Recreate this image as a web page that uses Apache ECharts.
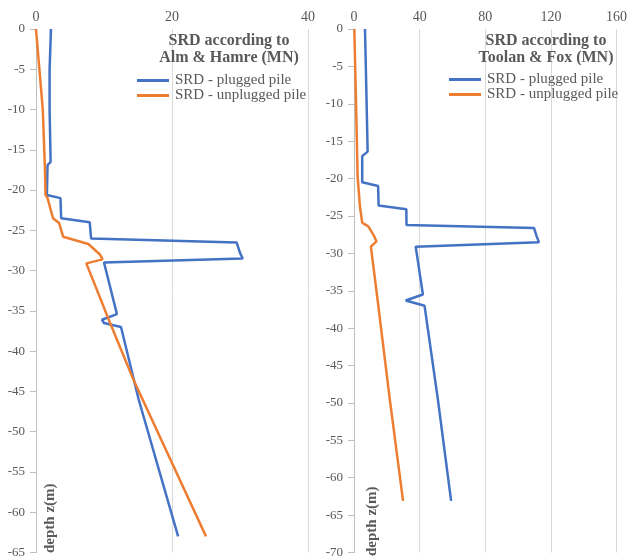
<!DOCTYPE html>
<html>
<head>
<meta charset="utf-8">
<script src="https://cdn.jsdelivr.net/npm/echarts@6/dist/echarts.min.js"></script>
<style>
html, body { margin: 0; padding: 0; background: #fff; }
#chart { width: 630px; height: 559px; }
</style>
</head>
<body>
<div id="chart"></div>
<script>
// Alm & Hamre - left panel
var almDepthPlugged = [0, -5, -10, -16.5, -16.9, -20.6, -21.0, -23.5, -24.0, -26.0, -26.5, -27.8, -28.5, -29.0, -35.4, -36.1, -36.5, -37.0, -46, -63];
var almSrdPlugged   = [2.2, 2.0, 2.0, 2.15, 1.7, 1.6, 3.6, 3.7, 7.9, 8.1, 29.5, 30.0, 30.4, 10.0, 11.9, 9.7, 10.0, 12.5, 15.1, 20.9];
var almDepthUnplugged = [0, -10, -17, -20.6, -21.0, -23.5, -24.1, -25.8, -26.7, -28.0, -28.6, -29.1, -36.5, -43.5, -63];
var almSrdUnplugged   = [0, 1.0, 1.3, 1.4, 1.7, 2.5, 3.4, 4.0, 7.7, 9.4, 9.8, 7.4, 10.9, 14.3, 25.0];

// Toolan & Fox - right panel
var tfDepthPlugged = [0, -10, -16.4, -17.0, -20.5, -21.0, -23.6, -24.1, -26.2, -26.6, -27.7, -28.5, -29.1, -35.5, -36.3, -37.0, -49.5, -63.1];
var tfSrdPlugged   = [6.7, 7.7, 8.3, 5.0, 5.0, 14.7, 15.0, 31.9, 32.0, 109.7, 111.3, 112.7, 37.6, 42.0, 31.5, 43.0, 51.1, 59.2];
var tfDepthUnplugged = [0, -9.5, -19.7, -23.7, -25.9, -26.4, -27.7, -28.4, -29.1, -36.8, -49.5, -63.1];
var tfSrdUnplugged   = [0.2, 1.2, 2.2, 3.6, 5.0, 8.7, 12.3, 13.7, 10.3, 14.7, 21.8, 29.9];

var seriesNames = ['SRD - plugged pile', 'SRD - unplugged pile'];
var panelTitles = ['SRD according to\nAlm & Hamre (MN)', 'SRD according to\nToolan & Fox (MN)'];
var yAxisName = 'depth z(m)';

var blue = '#4472C4';
var orange = '#ED7D31';
var txt = '#595959';
var serif = '"Liberation Serif", "Times New Roman", serif';

function pairs(xs, ys) {
	return xs.map(function (x, i) { return [x, ys[i]]; });
}

function xAxis(idx, max, interval) {
	return {
		type: 'value', gridIndex: idx, position: 'top',
		min: 0, max: max, interval: interval,
		axisLine: { show: false }, axisTick: { show: false },
		axisLabel: { color: txt, fontFamily: serif, fontSize: 14, margin: 5 },
		splitLine: { lineStyle: { color: '#d9d9d9', width: 1 } }
	};
}

function yAxis(idx, min) {
	return {
		type: 'value', gridIndex: idx,
		min: min, max: 0, interval: 5,
		axisLine: { show: true, lineStyle: { color: '#bfbfbf' } },
		axisTick: { show: true, length: 6, lineStyle: { color: '#bfbfbf' } },
		axisLabel: { color: txt, fontFamily: serif, fontSize: 13, margin: 11 },
		splitLine: { show: false }
	};
}

function line(name, idx, data, color) {
	return {
		name: name, type: 'line', xAxisIndex: idx, yAxisIndex: idx,
		data: data, symbol: 'none', animation: false,
		lineStyle: { color: color, width: 2.5 },
		itemStyle: { color: color }
	};
}

function legend(left, top) {
	return {
		left: left, top: top, orient: 'vertical', padding: 0,
		icon: 'rect', itemWidth: 32, itemHeight: 3, itemGap: 0,
		data: seriesNames, selectedMode: false,
		textStyle: { color: txt, fontFamily: serif, fontSize: 15, lineHeight: 15, padding: [0, 0, 0, 1] }
	};
}

var chart = echarts.init(document.getElementById('chart'));

var option = {
	backgroundColor: '#fff',
	animation: false,
	grid: [
		{ left: 36, top: 29, width: 272, height: 524 },
		{ left: 354, top: 29, width: 264, height: 524 }
	],
	title: [
		{ text: panelTitles[0], left: 229, top: 32, textAlign: 'center', padding: 0,
		  textStyle: { color: txt, fontFamily: serif, fontSize: 16, fontWeight: 'bold', lineHeight: 17 } },
		{ text: panelTitles[1], left: 546, top: 32, textAlign: 'center', padding: 0,
		  textStyle: { color: txt, fontFamily: serif, fontSize: 16, fontWeight: 'bold', lineHeight: 17 } }
	],
	legend: [legend(137, 73), legend(449, 72)],
	xAxis: [xAxis(0, 40, 20), xAxis(1, 160, 40)],
	yAxis: [yAxis(0, -65), yAxis(1, -70)],
	series: [
		line(seriesNames[0], 0, pairs(almSrdPlugged, almDepthPlugged), blue),
		line(seriesNames[1], 0, pairs(almSrdUnplugged, almDepthUnplugged), orange),
		line(seriesNames[0], 1, pairs(tfSrdPlugged, tfDepthPlugged), blue),
		line(seriesNames[1], 1, pairs(tfSrdUnplugged, tfDepthUnplugged), orange)
	],
	graphic: [
		{ type: 'text', x: 50, y: 553, rotation: Math.PI / 2,
		  style: { text: yAxisName, fill: txt, font: 'bold 15px ' + serif, align: 'left', verticalAlign: 'middle' } },
		{ type: 'text', x: 372, y: 556, rotation: Math.PI / 2,
		  style: { text: yAxisName, fill: txt, font: 'bold 15px ' + serif, align: 'left', verticalAlign: 'middle' } }
	]
};

chart.setOption(option);
</script>
</body>
</html>
